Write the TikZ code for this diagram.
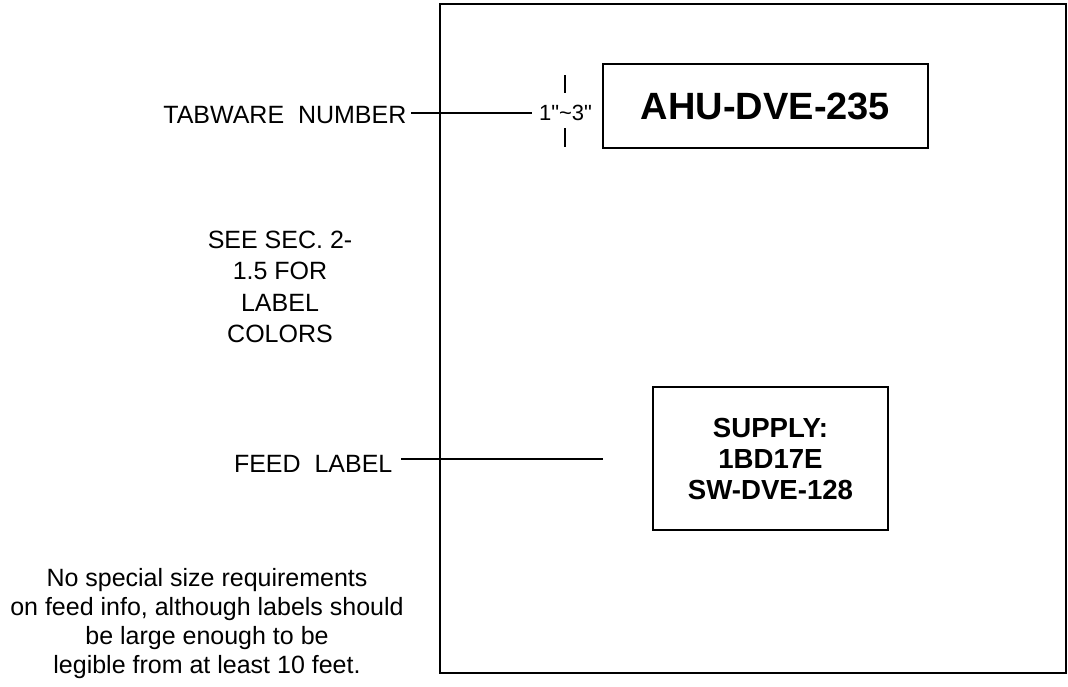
\documentclass[tikz,border=0pt]{standalone}
\usepackage{fontspec}
\setmainfont{Liberation Sans}[Ligatures=TeXOff]
\usetikzlibrary{positioning}

\begin{document}
\begin{tikzpicture}[x=0.5pt, y=-0.5pt, line width=0.6pt,
txt/.style={font=\fontsize{12.5}{15.75}\selectfont, align=center, inner sep=2pt},
dimtxt/.style={font=\fontsize{11}{13}\selectfont, inner sep=3pt},
tag/.style={draw, align=center, inner sep=0pt}]

\useasboundingbox (0,0) rectangle (1068,686);
\draw (440,4) rectangle (1066,673);

\node[tag, minimum width=162.5pt, minimum height=42pt, font=\bfseries\fontsize{19}{22}\selectfont] (ahu) at (765.5,106) {AHU-DVE-235};
\node[tag, minimum width=117.5pt, minimum height=71.5pt, font=\bfseries\fontsize{13.8}{15.5}\selectfont] (supply) at (770.5,458.5) {SUPPLY:\\1BD17E\\SW-DVE-128};

\node[txt, anchor=east] (tabnum) at (411,115) {TABWARE\ \ NUMBER};
\node[dimtxt] (dim) at (565.5,113) {1"\textasciitilde3"};
\draw (tabnum.east |- dim.west) -- (dim.west);
\draw (565,75) -- (565,93);
\draw (565,128) -- (565,147);

\node[txt] (colors) at (280,287) {SEE SEC. 2-\\1.5 FOR\\LABEL\\COLORS};

\node[txt, anchor=east] (feedlbl) at (397,464) {FEED\ \ LABEL};
\coordinate (feedend) at (603,459);
\draw ([xshift=2pt]feedlbl.east |- feedend) -- (feedend);

\node[txt, font=\fontsize{12.5}{14.5}\selectfont] (note) at (207,624) {No special size requirements\\on feed info, although labels should\\be large enough to be\\legible from at least 10 feet.};

\end{tikzpicture}
\end{document}
